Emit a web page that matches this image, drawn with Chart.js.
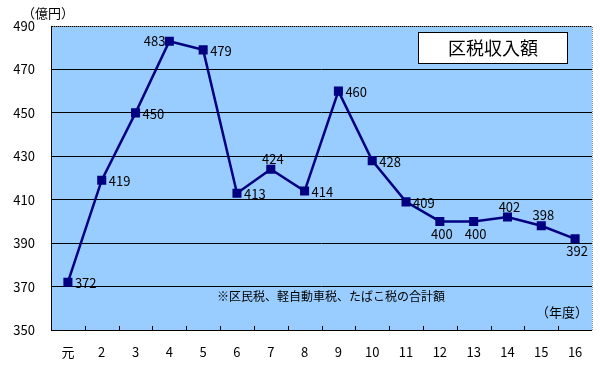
<!DOCTYPE html>
<html>
<head>
<meta charset="utf-8">
<script src="https://cdn.jsdelivr.net/npm/chart.js@4/dist/chart.umd.min.js"></script>
<style>
  html, body { margin: 0; padding: 0; background: #fff; }
  #wrap { width: 600px; height: 373px; position: relative; }
</style>
</head>
<body>
<div id="wrap"><canvas id="zeiChart"></canvas></div>
<script>
let nendo = ["元","2","3","4","5","6","7","8","9","10","11","12","13","14","15","16"];
let zeigaku = [372,419,450,483,479,413,424,414,460,428,409,400,400,402,398,392];
let labelPos = ["right","right","right","left","right","right","above","right","right","right","right","below","below","above","above","below"];

const FONT = "'Noto Sans CJK JP', 'DejaVu Sans', sans-serif";

const decoPlugin = {
  id: 'deco',
  beforeDraw(chart) {
    const {ctx, chartArea: a} = chart;
    ctx.save();
    ctx.fillStyle = '#99ccff';
    ctx.fillRect(a.left, a.top, a.right - a.left, a.bottom - a.top);
    ctx.restore();
  },
  afterDatasetsDraw(chart) {
    const {ctx, chartArea: a} = chart;
    ctx.save();
    // plot border (top / right dotted)
    ctx.strokeStyle = '#808080';
    ctx.setLineDash([1, 1]);
    ctx.lineWidth = 1;
    ctx.beginPath();
    ctx.moveTo(a.left, a.top + 0.5);
    ctx.lineTo(a.right + 0.5, a.top + 0.5);
    ctx.lineTo(a.right + 0.5, a.bottom);
    ctx.stroke();
    ctx.setLineDash([]);
    // axes
    ctx.strokeStyle = '#000';
    ctx.beginPath();
    ctx.moveTo(a.left + 0.5, a.top);
    ctx.lineTo(a.left + 0.5, a.bottom + 0.5);
    ctx.lineTo(a.right, a.bottom + 0.5);
    ctx.stroke();
    // inner ticks at category boundaries
    const step = (a.right - a.left) / nendo.length;
    ctx.beginPath();
    for (let i = 1; i < nendo.length; i++) {
      const x = Math.round(a.left + step * i) + 0.5;
      ctx.moveTo(x, a.bottom);
      ctx.lineTo(x, a.bottom - 4);
    }
    ctx.stroke();

    // data labels
    const meta = chart.getDatasetMeta(0);
    ctx.fillStyle = '#000';
    ctx.font = '13px ' + FONT;
    meta.data.forEach((pt, i) => {
      const txt = String(zeigaku[i]);
      const p = labelPos[i];
      if (p === 'right') {
        ctx.textAlign = 'left'; ctx.textBaseline = 'middle';
        ctx.fillText(txt, pt.x + 7, pt.y + 1);
      } else if (p === 'left') {
        ctx.textAlign = 'right'; ctx.textBaseline = 'middle';
        ctx.fillText(txt, pt.x - 4, pt.y);
      } else if (p === 'above') {
        ctx.textAlign = 'center'; ctx.textBaseline = 'bottom';
        ctx.fillText(txt, pt.x + 2, pt.y - 4);
      } else {
        ctx.textAlign = 'center'; ctx.textBaseline = 'top';
        ctx.fillText(txt, pt.x + 2, pt.y + 6);
      }
    });

    // title box
    ctx.fillStyle = '#fff';
    ctx.fillRect(418, 32, 149, 31);
    ctx.strokeStyle = '#000';
    ctx.strokeRect(418.5, 32.5, 149, 31);
    ctx.fillStyle = '#000';
    ctx.font = '18px ' + FONT;
    ctx.textAlign = 'center'; ctx.textBaseline = 'middle';
    ctx.fillText('区税収入額', 493, 48);

    // note and unit texts
    ctx.font = '12px ' + FONT;
    ctx.textAlign = 'left'; ctx.textBaseline = 'middle';
    ctx.fillText('※区民税、軽自動車税、たばこ税の合計額', 217, 296);
    ctx.font = '13px ' + FONT;
    ctx.fillText('（年度）', 536, 312);
    ctx.fillText('（億円）', 22, 13);
    ctx.restore();
  }
};

new Chart(document.getElementById('zeiChart'), {
  type: 'line',
  data: {
    labels: nendo,
    datasets: [{
      data: zeigaku,
      borderColor: '#000080',
      backgroundColor: '#000080',
      borderWidth: 2.5,
      pointStyle: 'rect',
      pointRadius: 6.4,
      pointBorderWidth: 0,
      tension: 0,
      fill: false
    }]
  },
  options: {
    responsive: true,
    maintainAspectRatio: false,
    animation: false,
    events: [],
    layout: { padding: { top: 26, right: 8, left: 0, bottom: 0 } },
    plugins: {
      legend: { display: false },
      tooltip: { enabled: false },
      title: { display: false }
    },
    scales: {
      x: {
        offset: true,
        grid: { display: false, drawTicks: false },
        border: { display: false },
        ticks: { color: '#000', font: { family: FONT, size: 13 }, padding: 14, maxRotation: 0 },
        afterFit: s => { s.height = 43; }
      },
      y: {
        min: 350, max: 490,
        grid: { color: '#000', lineWidth: 1, drawTicks: false },
        border: { display: false },
        ticks: { stepSize: 20, color: '#000', font: { family: FONT, size: 13 }, padding: 16 },
        afterFit: s => { s.width = 51; }
      }
    }
  },
  plugins: [decoPlugin]
});
</script>
</body>
</html>
